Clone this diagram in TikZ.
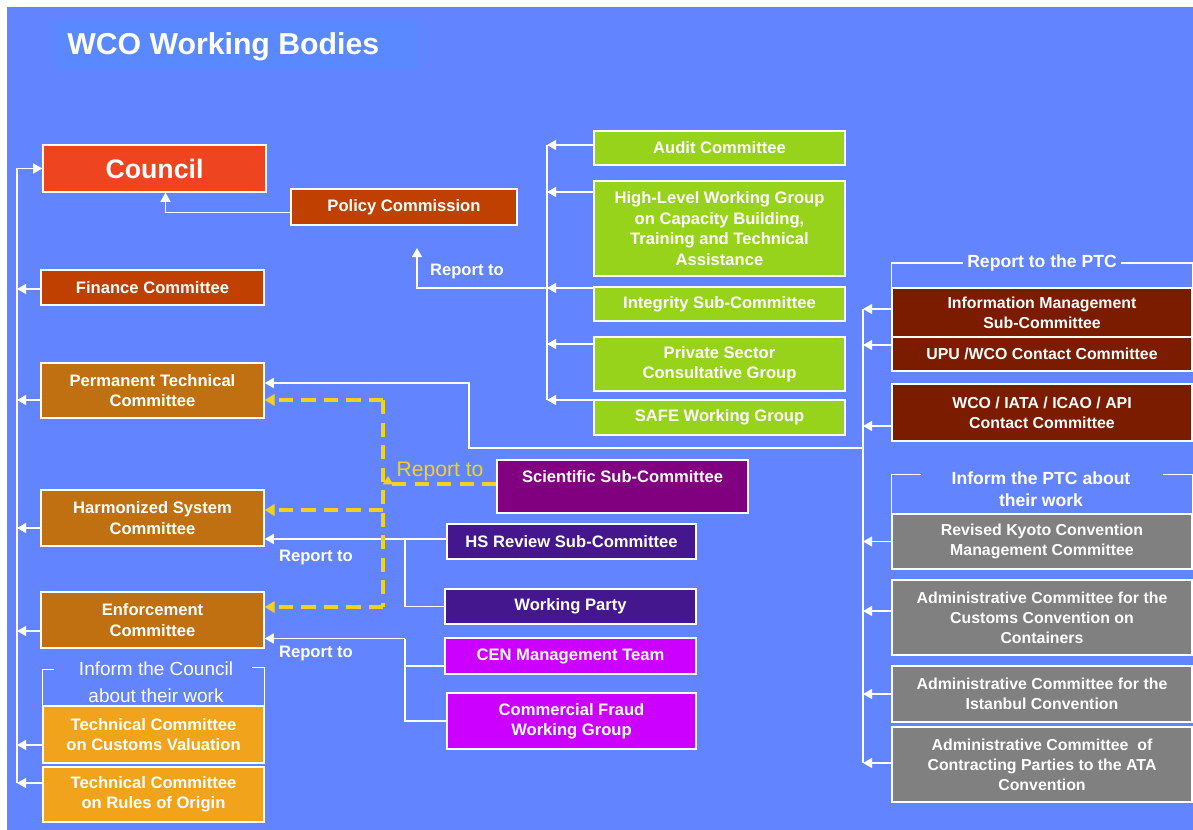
\documentclass[tikz,border=0pt]{standalone}
\usepackage{fontspec}
\setmainfont{Liberation Sans}
\usetikzlibrary{arrows.meta,calc,positioning}
\definecolor{wcoblue}{HTML}{6384FF}
\definecolor{titleblue}{HTML}{5A88FF}
\definecolor{councilred}{HTML}{EE4520}
\definecolor{rust}{HTML}{BF4000}
\definecolor{ochre}{HTML}{C07010}
\definecolor{amber}{HTML}{F0A31B}
\definecolor{lime}{HTML}{97D31B}
\definecolor{maroon}{HTML}{7B1B00}
\definecolor{plum}{HTML}{800080}
\definecolor{indigo}{HTML}{45178F}
\definecolor{magenta}{HTML}{CC00FF}
\definecolor{slate}{HTML}{808080}
\definecolor{wcoyellow}{HTML}{F2D21E}
\tikzset{
  body/.style={fill=#1, draw=white, line width=1pt, text=white, align=center, inner sep=0pt,
    font=\fontsize{11.8}{14.5}\selectfont\bfseries},
  rightbody/.style={body=#1, font=\fontsize{11.3}{14.3}\selectfont\bfseries},
  corners/.style n args={4}{minimum width={(#3-#1)*0.025cm}, minimum height={(#4-#2)*0.025cm},
    at={(0.5*#1+0.5*#3,0.5*#2+0.5*#4)}},
  wire/.style={white, line width=1.4pt},
  bracket/.style={white, line width=1.1pt},
  ydash/.style={wcoyellow, line width=2.4pt, dash pattern=on 10pt off 6pt},
  replabel/.style={text=white, inner sep=0pt, font=\fontsize{11.8}{14}\selectfont\bfseries},
  grouplabel/.style={text=white, align=center, inner sep=3pt, font=\fontsize{12.5}{15.6}\selectfont\bfseries}
}
\begin{document}
\begin{tikzpicture}[x=0.025cm, y=-0.025cm, >={Triangle[length=6.5pt,width=7pt]}]
\useasboundingbox (0,0) rectangle (1193,830);
\fill[white] (0,0) rectangle (1193,830);
\fill[wcoblue] (7,7) rectangle (1193,830);
% Titel
\fill[titleblue] (53,20) rectangle (417,70);
\node[anchor=west, text=white, inner sep=0pt, font=\fontsize{21.5}{24}\selectfont\bfseries] (title) at (67,47) {WCO Working Bodies};
% linke Spalte
\node[body=councilred, corners={43}{145}{266}{192}, font=\fontsize{19}{22}\selectfont\bfseries] (council) {Council};
\node[body=rust, corners={291}{189}{517}{225}] (policy) {Policy Commission};
\node[body=rust, corners={41}{270}{264}{305}] (finance) {Finance Committee};
\node[body=ochre, corners={41}{363}{264}{418}] (ptc) {Permanent Technical\\Committee};
\node[body=ochre, corners={41}{490}{264}{546}] (hs) {Harmonized System\\Committee};
\node[body=ochre, corners={41}{592}{264}{648}] (enf) {Enforcement\\Committee};
\node[body=amber, corners={43}{706}{264}{763}] (tccv) {Technical Committee\\on Customs Valuation};
\node[body=amber, corners={43}{767}{264}{822}] (tcro) {Technical Committee\\on Rules of Origin};
% gruene Gruppe
\node[body=lime, corners={594}{131}{845}{165}] (audit) {Audit Committee};
\node[body=lime, corners={594}{181}{845}{276}] (hlwg) {High-Level Working Group\\on Capacity Building,\\Training and Technical\\Assistance};
\node[body=lime, corners={594}{287}{845}{321}] (integ) {Integrity Sub-Committee};
\node[body=lime, corners={594}{337}{845}{391}] (psg) {Private Sector\\Consultative Group};
\node[body=lime, corners={594}{400}{845}{435}] (safe) {SAFE Working Group};
% Mitte
\node[body=plum, corners={497}{460}{748}{513}] (sci) {Scientific Sub-Committee\\[0pt]\mbox{}};
\node[body=indigo, corners={447}{524}{696}{559}] (hsrev) {HS Review Sub-Committee};
\node[body=indigo, corners={445}{589}{696}{624}] (wparty) {Working Party};
\node[body=magenta, corners={445}{638}{696}{674}] (cen) {CEN Management Team};
\node[body=magenta, corners={447}{693}{696}{749}] (cfwg) {Commercial Fraud\\Working Group};
% rechte Spalte
\node[rightbody=maroon, corners={892}{288}{1192}{337}] (info) {Information Management\\Sub-Committee};
\node[rightbody=maroon, corners={892}{337}{1192}{371}] (upu) {UPU /WCO Contact Committee};
\node[rightbody=maroon, corners={892}{384}{1192}{441}] (api) {WCO / IATA / ICAO / API\\Contact Committee};
\node[rightbody=slate, corners={892}{514}{1192}{569}] (rkc) {Revised Kyoto Convention\\Management Committee};
\node[rightbody=slate, corners={892}{580}{1192}{655}] (ccc) {Administrative Committee for the\\Customs Convention on\\Containers};
\node[rightbody=slate, corners={892}{666}{1192}{722}] (icv) {Administrative Committee for the\\Istanbul Convention};
\node[rightbody=slate, corners={892}{727}{1192}{802}] (ata) {Administrative Committee \ of\\Contracting Parties to the ATA\\Convention};
% Sammelschienen
\coordinate (lbot) at (17,783);
\coordinate (gtop) at (547,145);
\coordinate (gbot) at (547,400);
\coordinate (gmid) at (547,288);
\coordinate (gtip) at (417,248);
\coordinate (rtop) at (863,309);
\coordinate (rbot) at (863,763);
\coordinate (rjoin) at (863,448);
\coordinate (hbus) at (405,539);
\coordinate (ebus) at (405,638.5);
\coordinate (ytop) at (383,400);
\coordinate (ymid) at (383,510);
\coordinate (ybot) at (383,607);
\coordinate (yup) at (388,476);
% an den Rat
\draw[wire,->] (lbot) |- (council.west);
\foreach \b/\dy in {finance/1.5, ptc/9.5, hs/10, enf/11, tccv/10.5, tcro/-11.5}
  \draw[wire,->] ($(\b.west)+(0,\dy)$) coordinate (s) -- (s -| lbot);
\draw[wire,->] ($(policy.west)+(0,5.5)$) -| ($(council.south)+(11,0)$);
% an die Policy Commission
\draw[wire] (gtop) -- (gbot);
\foreach \b/\dy in {audit/-3, hlwg/-36.5, integ/-16, psg/-20, safe/-17.5}
  \draw[wire,->] ($(\b.west)+(0,\dy)$) coordinate (s) -- (s -| gtop);
\draw[wire,->] (gmid) -| (gtip);
\node[replabel] (rep1) at (467,272) {Report to};
% an das PTC
\draw[wire] (rtop) -- (rbot);
\foreach \b/\dy in {info/-3.5, upu/-9, api/13.5, rkc/0, ccc/-6.5, icv/0, ata/-1.5}
  \draw[wire,->] ($(\b.west)+(0,\dy)$) coordinate (s) -- (s -| rtop);
\draw[wire,->] (rjoin) -- ++(-394,0) |- ($(ptc.east)+(0,-7.5)$);
\node[grouplabel] (rptc) at (1042,263) {Report to the PTC};
\draw[bracket] (info.north west) |- (rptc.west);
\draw[bracket] (rptc.east) -| (info.north east);
\node[grouplabel, inner sep=0pt] (iptc) at (1041,489) {Inform the PTC about\\their work};
\draw[bracket] (rkc.north west) -- ++(0,-39) -- ++(30,0);
\draw[bracket] (rkc.north east) -- ++(0,-39) -- ++(-30,0);
% HS und Enforcement
\draw[wire,->] ($(hsrev.west)+(0,-2.5)$) coordinate (s) -- (s -| hs.east);
\draw[wire] (wparty.west) -| (hbus);
\node[replabel] (rep2) at (316,558) {Report to};
\draw[wire,->] (ebus) -- (ebus -| enf.east);
\draw[wire] (cfwg.west) -| (ebus);
\draw[wire] ($(cen.west)+(0,10)$) coordinate (s) -- (s -| ebus);
\node[replabel] (rep3) at (316,654) {Report to};
% gestrichelt vom Scientific Sub-Committee
\draw[ydash] (ytop) -- (ybot);
\foreach \c/\b in {ytop/ptc, ymid/hs, ybot/enf}
  \draw[ydash,-{Triangle[length=7pt,width=8pt]}] (\c) -- (\c -| \b.east);
\draw[ydash,-{Triangle[length=6pt,width=7pt]}] ($(sci.west)+(0,-2.5)$) -| (yup);
\node[text=wcoyellow, inner sep=0pt, font=\fontsize{15}{18}\selectfont] (rep4) at (440,471) {Report to};
% Inform the Council
\node[text=white, align=center, inner sep=0pt, font=\fontsize{13.5}{19}\selectfont] (icouncil) at (156,682) {Inform the Council\\about their work};
\draw[bracket] (tccv.north west) -- ++(0,-36) -- ++(12,0);
\draw[bracket] (tccv.north east) -- ++(0,-38) -- ++(-13,0);
\end{tikzpicture}
\end{document}
